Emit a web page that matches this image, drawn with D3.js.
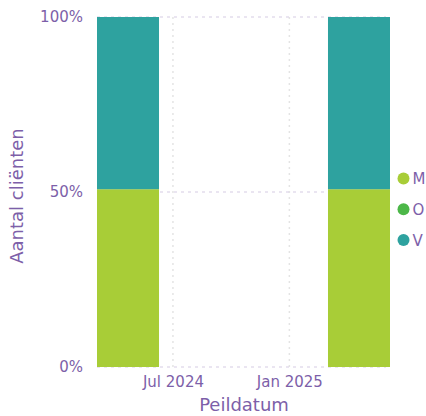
<!DOCTYPE html>
<html>
<head>
<meta charset="utf-8">
<script src="https://cdn.jsdelivr.net/npm/d3@7"></script>
<style>
  body { margin: 0; background: #fff; }
  text { font-family: "DejaVu Sans", Verdana, sans-serif; }
</style>
</head>
<body>
<div id="chart"></div>
<script>
// data
const dates = ['2024-04-21', '2025-04-21'];
const categories = ['M', 'O', 'V'];
const valuesM = [50.8, 50.8];
const valuesO = [0, 0];
const valuesV = [49.2, 49.2];
const colors = ['#a8cd37', '#4cb748', '#2ea29f'];
const xTicks = ['2024-07-01', '2025-01-01'];
const yTicks = [0, 50, 100];

const width = 426, height = 416;
const margin = { top: 17, right: 36, bottom: 49, left: 97 };
const innerW = width - margin.left - margin.right;
const innerH = height - margin.top - margin.bottom;
const textColor = '#7d5fa9';
const gridColor = '#d5cbe3';

const parse = d3.timeParse('%Y-%m-%d');
const barDays = 98;

const svg = d3.select('#chart').append('svg')
  .attr('width', width)
  .attr('height', height);

const g = svg.append('g')
  .attr('transform', `translate(${margin.left},${margin.top})`);

const d0 = d3.timeDay.offset(parse(dates[0]), -barDays / 2);
const d1 = d3.timeDay.offset(parse(dates[dates.length - 1]), barDays / 2);

const x = d3.scaleTime().domain([d0, d1]).range([0, innerW]);
const y = d3.scaleLinear().domain([0, 100]).range([innerH, 0]);

// gridlines
g.selectAll('.vgrid')
  .data(xTicks.map(parse))
  .enter().append('line')
  .attr('x1', d => x(d)).attr('x2', d => x(d))
  .attr('y1', 0).attr('y2', innerH)
  .attr('stroke', '#e4e4e4')
  .attr('stroke-width', 1.5)
  .attr('stroke-dasharray', '2,4');

g.selectAll('.hgrid')
  .data(yTicks)
  .enter().append('line')
  .attr('x1', 0).attr('x2', innerW - 4)
  .attr('y1', d => y(d)).attr('y2', d => y(d))
  .attr('stroke', gridColor)
  .attr('stroke-width', 1.2)
  .attr('stroke-dasharray', '3,4');

// stacked bars
const table = dates.map((d, i) => ({ date: parse(d), M: valuesM[i], O: valuesO[i], V: valuesV[i] }));
const stack = d3.stack().keys(categories)(table);

const layers = g.selectAll('.layer')
  .data(stack)
  .enter().append('g')
  .attr('fill', (d, i) => colors[i]);

layers.selectAll('rect')
  .data(d => d)
  .enter().append('rect')
  .attr('x', d => x(d3.timeDay.offset(d.data.date, -barDays / 2)))
  .attr('width', d => x(d3.timeDay.offset(d.data.date, barDays / 2)) - x(d3.timeDay.offset(d.data.date, -barDays / 2)))
  .attr('y', d => y(d[1]))
  .attr('height', d => y(d[0]) - y(d[1]));

// axes
const xAxis = d3.axisBottom(x)
  .tickValues(xTicks.map(parse))
  .tickFormat(d3.timeFormat('%b %Y'))
  .tickSize(0);
g.append('g')
  .attr('transform', `translate(0,${innerH})`)
  .call(xAxis)
  .call(a => a.select('.domain').remove())
  .selectAll('text')
  .attr('fill', textColor)
  .attr('font-size', 15)
  .attr('font-family', '"DejaVu Sans", Verdana, sans-serif')
  .attr('y', 9);

const yAxis = d3.axisLeft(y)
  .tickValues(yTicks)
  .tickFormat(d => d + '%')
  .tickSize(0);
g.append('g')
  .call(yAxis)
  .call(a => a.select('.domain').remove())
  .selectAll('text')
  .attr('fill', textColor)
  .attr('font-size', 15)
  .attr('font-family', '"DejaVu Sans", Verdana, sans-serif')
  .attr('x', -14);

// axis titles
svg.append('text')
  .attr('x', 244)
  .attr('y', 411)
  .attr('text-anchor', 'middle')
  .attr('fill', textColor)
  .attr('font-size', 18)
  .text('Peildatum');

svg.append('text')
  .attr('transform', `translate(23,${margin.top + innerH / 2 + 4}) rotate(-90)`)
  .attr('text-anchor', 'middle')
  .attr('fill', textColor)
  .attr('font-size', 18)
  .text('Aantal cliënten');

// legend
const legend = svg.append('g')
  .attr('transform', 'translate(403.5,178.5)');
categories.forEach((c, i) => {
  const row = legend.append('g').attr('transform', `translate(0,${i * 30.8})`);
  row.append('circle').attr('r', 6).attr('fill', colors[i]);
  row.append('text')
    .attr('x', 9)
    .attr('y', 5.5)
    .attr('fill', textColor)
    .attr('font-size', 15)
    .text(c);
});
</script>
</body>
</html>
